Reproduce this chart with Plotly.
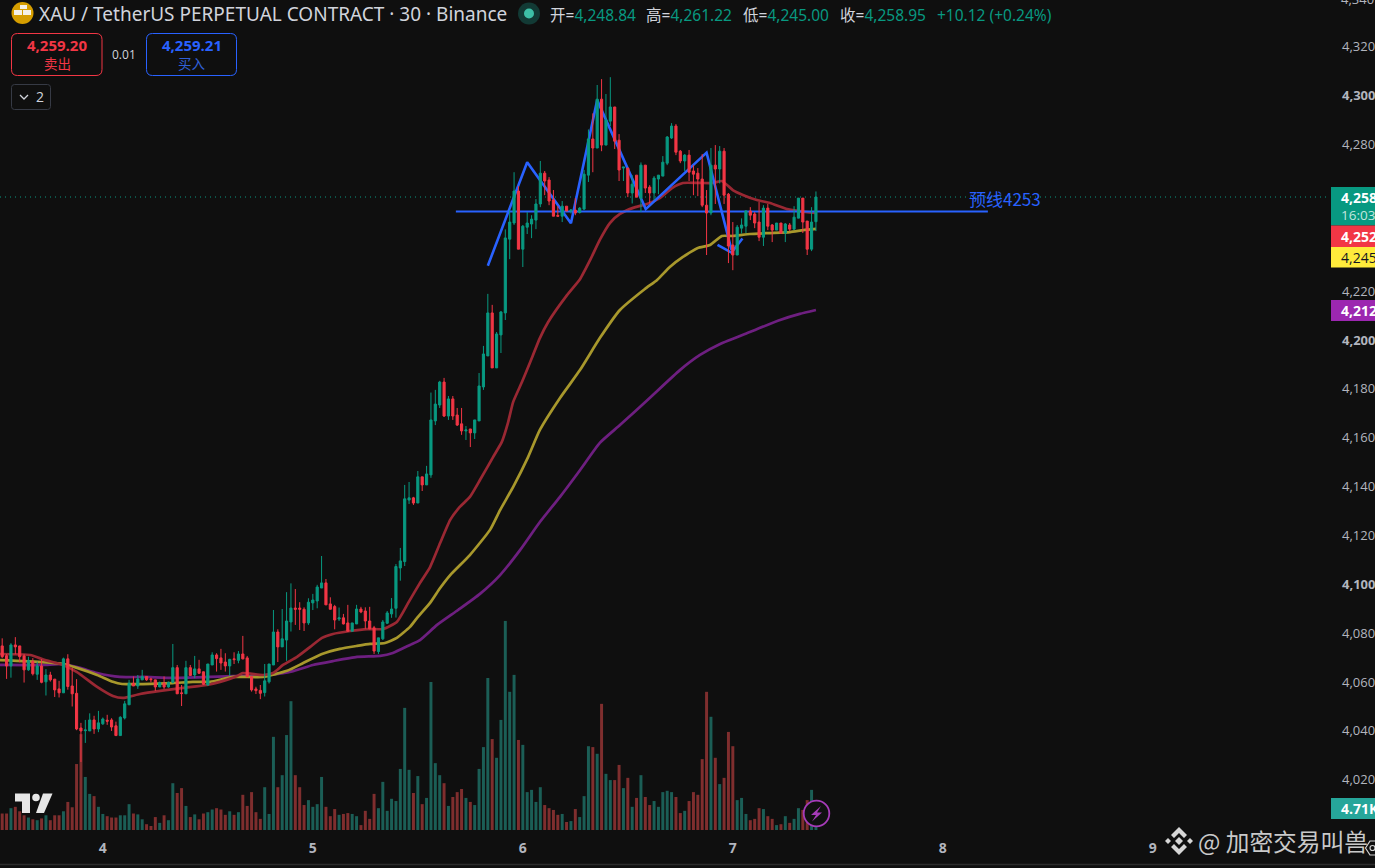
import plotly.graph_objects as go

# ---- data ----
bars = list(range(187))
open_ = [4075.2,4071.2,4067.0,4075.6,4075.2,4071.1,4065.4,4068.8,4063.6,4067.0,
4060.5,4063.3,4061.6,4057.6,4056.0,4069.9,4058.8,4055.8,4041.6,4040.5,
4040.4,4044.9,4041.2,4043.3,4044.8,4044.9,4042.5,4038.5,4045.7,4051.1,
4059.9,4058.8,4061.3,4062.7,4061.7,4061.3,4058.4,4059.9,4058.4,4060.3,
4066.3,4056.0,4055.6,4066.3,4063.3,4065.8,4064.6,4059.2,4067.4,4071.5,
4070.3,4068.6,4067.0,4069.9,4069.3,4071.9,4070.3,4062.6,4057.6,4057.0,
4056.1,4060.5,4067.4,4080.9,4074.8,4077.6,4085.0,4090.7,4090.7,4090.2,
4084.6,4092.8,4093.6,4098.9,4101.0,4092.4,4091.3,4086.2,4086.7,4084.6,
4081.2,4084.2,4090.3,4089.5,4085.4,4082.6,4072.9,4078.1,4084.5,4088.3,
4090.6,4107.1,4109.7,4134.9,4135.8,4133.7,4144.4,4141.1,4145.2,4167.3,
4173.8,4183.2,4169.3,4176.3,4169.7,4166.1,4163.2,4164.0,4162.4,4167.3,
4181.2,4193.9,4211.5,4189.0,4202.5,4211.5,4241.7,4248.3,4261.4,4237.6,
4246.6,4247.9,4249.5,4256.1,4268.7,4265.9,4257.7,4251.4,4251.1,4255.2,
4253.2,4253.6,4252.6,4254.0,4267.9,4282.7,4279.0,4299.0,4280.2,4290.0,
4295.8,4282.2,4270.8,4270.8,4260.6,4267.9,4258.5,4272.0,4263.0,4260.6,
4266.3,4267.5,4272.8,4283.1,4288.0,4277.7,4273.7,4276.1,4269.6,4268.7,
4266.3,4255.6,4252.4,4272.0,4270.4,4277.7,4260.1,4239.3,4235.2,4246.2,
4247.0,4253.2,4252.0,4248.7,4242.5,4254.4,4247.5,4245.4,4248.3,4244.2,
4247.5,4245.8,4250.3,4258.5,4249.1,4237.6,4248.84]
high = [4078.3,4071.9,4076.3,4078.8,4075.2,4071.8,4070.8,4070.2,4068.8,4069.8,
4065.7,4064.6,4061.6,4060.9,4070.4,4071.8,4066.1,4061.6,4043.7,4044.9,
4047.6,4046.6,4048.6,4045.9,4047.0,4045.6,4044.2,4046.4,4052.7,4061.3,
4062.7,4063.3,4065.4,4062.7,4062.2,4061.3,4060.6,4062.7,4060.6,4076.0,
4067.4,4059.2,4069.1,4067.4,4071.1,4069.5,4064.7,4067.8,4072.6,4072.2,
4074.0,4072.2,4069.9,4072.6,4073.1,4079.3,4071.1,4062.9,4058.5,4059.2,
4067.8,4067.8,4089.9,4082.0,4090.3,4097.2,4100.8,4098.5,4093.1,4091.0,
4094.7,4096.5,4100.2,4112.0,4102.6,4095.1,4092.0,4090.9,4088.3,4092.0,
4084.6,4092.0,4091.2,4091.0,4091.2,4083.4,4078.5,4085.8,4089.5,4094.8,
4108.7,4115.3,4141.1,4142.3,4136.2,4146.8,4144.4,4148.9,4178.9,4180.0,
4183.7,4184.9,4177.5,4177.5,4172.6,4172.6,4165.2,4164.0,4167.7,4186.9,
4198.0,4219.3,4214.8,4203.7,4212.3,4245.7,4253.6,4269.1,4263.4,4247.5,
4252.8,4251.5,4258.1,4273.7,4269.6,4267.1,4261.8,4255.2,4257.3,4255.2,
4254.0,4258.5,4254.8,4270.0,4286.6,4293.2,4304.8,4307.2,4301.1,4308.0,
4295.8,4284.7,4271.2,4270.8,4267.9,4267.9,4273.1,4272.0,4263.8,4267.5,
4267.9,4275.7,4283.9,4289.2,4288.8,4278.2,4276.5,4278.2,4272.0,4270.8,
4276.5,4261.8,4279.0,4280.2,4279.8,4279.0,4260.6,4248.7,4247.5,4250.2,
4253.6,4254.8,4252.8,4256.9,4255.6,4256.1,4247.9,4248.3,4248.3,4248.3,
4248.3,4255.2,4258.5,4258.5,4249.1,4254.8,4261.22]
low = [4070.2,4061.7,4062.2,4071.8,4068.5,4060.2,4065.0,4063.1,4061.3,4059.9,
4054.9,4060.6,4054.3,4054.1,4056.0,4057.3,4050.4,4040.7,4027.7,4035.5,
4040.4,4039.2,4039.9,4042.9,4042.9,4040.4,4038.5,4038.5,4045.1,4051.1,
4058.8,4057.6,4061.3,4060.9,4060.3,4056.8,4058.4,4057.6,4058.1,4059.9,
4055.6,4050.6,4055.6,4063.1,4062.0,4063.8,4059.2,4059.0,4067.4,4064.7,
4065.4,4064.7,4062.9,4067.8,4068.1,4069.7,4062.4,4056.5,4055.5,4053.4,
4054.5,4059.8,4067.4,4068.6,4074.8,4069.1,4081.1,4083.8,4081.7,4081.3,
4083.8,4089.9,4090.6,4098.9,4092.0,4090.2,4082.0,4085.4,4084.0,4081.1,
4081.2,4084.2,4088.6,4082.2,4082.0,4071.9,4071.9,4077.6,4084.2,4086.7,
4086.8,4101.9,4107.9,4133.3,4132.9,4133.7,4138.6,4141.1,4144.0,4165.6,
4172.6,4168.9,4167.7,4167.7,4165.2,4161.6,4159.5,4156.6,4159.9,4167.3,
4180.0,4193.9,4189.0,4189.0,4195.1,4208.6,4233.5,4247.5,4237.6,4230.3,
4243.8,4242.1,4245.8,4254.8,4259.7,4255.6,4251.1,4251.1,4248.7,4253.2,
4252.2,4251.5,4252.2,4253.6,4265.1,4269.1,4279.0,4277.7,4280.2,4288.0,
4278.6,4265.5,4265.5,4258.9,4256.3,4258.9,4252.8,4260.6,4256.3,4257.7,
4260.1,4267.5,4272.0,4282.7,4276.1,4272.8,4269.6,4265.5,4259.7,4259.3,
4254.8,4235.2,4251.5,4256.1,4264.5,4256.1,4231.9,4229.0,4235.2,4244.0,
4244.2,4249.5,4246.2,4240.9,4238.9,4245.4,4240.5,4245.4,4243.8,4240.5,
4245.0,4245.4,4250.3,4244.2,4235.2,4236.8,4245.0]
close = [4070.8,4067.0,4075.6,4074.8,4070.8,4065.4,4069.2,4063.8,4067.0,4060.3,
4063.3,4061.3,4057.2,4056.0,4069.9,4058.6,4055.6,4041.2,4040.4,4040.8,
4044.9,4041.2,4043.7,4045.3,4044.4,4042.0,4038.5,4046.0,4051.5,4059.9,
4058.8,4061.7,4062.7,4061.3,4061.4,4058.4,4060.2,4058.4,4060.3,4066.3,
4055.6,4055.7,4066.3,4063.1,4065.8,4064.0,4059.5,4067.8,4071.5,4070.0,
4068.2,4067.0,4069.7,4069.6,4071.9,4069.9,4062.6,4057.2,4056.9,4055.8,
4060.9,4067.8,4080.9,4074.8,4078.1,4085.4,4090.7,4090.2,4090.2,4084.6,
4093.1,4094.0,4099.3,4101.0,4092.0,4090.2,4085.8,4086.7,4084.2,4081.2,
4084.6,4090.3,4089.1,4085.4,4082.2,4073.1,4078.5,4085.0,4088.7,4090.3,
4107.7,4110.0,4135.4,4135.8,4133.7,4144.4,4141.1,4145.6,4167.7,4174.2,
4183.2,4169.3,4176.3,4169.3,4165.6,4163.2,4163.6,4162.4,4167.7,4181.6,
4194.7,4211.5,4189.0,4202.9,4211.9,4242.2,4248.7,4261.4,4237.6,4247.0,
4248.3,4249.9,4256.1,4268.7,4265.5,4257.3,4251.1,4251.1,4255.2,4253.2,
4253.6,4252.4,4254.4,4268.3,4282.7,4279.0,4299.0,4280.2,4290.4,4295.8,
4281.8,4270.0,4271.2,4260.6,4264.2,4258.9,4272.0,4262.6,4260.6,4266.7,
4267.9,4273.2,4283.5,4288.0,4277.3,4273.7,4276.1,4269.1,4268.3,4266.3,
4255.6,4252.4,4272.0,4270.4,4277.7,4259.7,4238.9,4235.2,4246.6,4247.5,
4253.2,4251.5,4248.3,4242.5,4254.4,4247.0,4245.4,4248.3,4244.2,4247.9,
4245.8,4250.7,4258.5,4248.7,4237.6,4248.7,4258.95]
volume_k = [3.7,3.7,4.9,5.2,4.2,3.3,2.8,2.4,2.2,2.6,
3.3,2.2,3.3,3.3,4.2,6.3,5.1,14.8,21.5,11.9,
8.1,7.6,5.2,3.6,3.1,2.8,2.8,3.3,3.3,5.8,
3.7,3.5,2.4,1.3,0.9,2.9,1.6,3.3,2.2,10.5,
8.3,9.4,5.4,2.9,3.5,2.4,3.7,4.0,4.6,4.9,
4.6,3.4,4.2,3.4,4.0,7.9,5.4,8.5,4.0,2.5,
9.6,3.6,20.9,9.6,12.3,21.3,28.9,12.3,9.6,5.6,
6.7,5.2,5.8,11.9,5.2,3.1,4.7,3.4,3.6,3.8,
3.6,3.1,1.1,4.3,2.5,8.1,4.9,10.8,4.3,7.0,
6.5,13.7,27.4,13.5,8.3,12.1,5.8,7.2,33.2,15.0,
12.3,10.5,5.4,7.4,8.5,9.2,7.2,6.3,5.6,13.7,
18.6,34.1,20.4,16.2,24.7,46.9,31.0,34.8,20.2,19.1,
8.5,9.0,6.3,9.6,5.6,4.9,4.5,3.4,3.6,1.8,
2.0,4.7,2.9,7.6,18.8,18.6,17.1,28.3,12.6,11.2,
11.2,14.6,9.4,11.7,5.2,7.2,12.3,7.4,5.6,6.5,
5.2,8.5,8.8,8.5,7.4,3.8,4.3,6.5,8.5,7.9,
15.9,31.0,25.4,16.2,10.3,11.7,22.0,18.8,6.7,7.2,
3.6,2.2,2.5,4.9,4.7,3.1,2.5,1.1,1.3,3.1,
1.6,2.5,4.9,4.5,6.7,9.0,4.71]

ma_red_x = [-0.5,6.4,9.8,13.9,17.1,21.7,25.3,27.6,31.5,36.1,41.3,46.8,49.8,53.7,55,59.6,61.9,64.2,67.4,70.4,73.1,75.6,79.5,83.4,87,90.2,92.8,95.5,97.8,100.1,102.4,104.6,106.9,109.2,112.2,114.2,115.6,116.8,118.8,120.6,122.9,124.8,129.1,132.1,134.4,136.6,138.9,141.2,144.2,147.4,150.4,153.1,155.6,159.5,162.5,164.5,167,169.3,172.5,175.5,179.4,182.3,186]
ma_red_y = [4071.9,4071.5,4069.4,4067.4,4064.5,4058.4,4054.7,4053.9,4055.5,4056.8,4058,4059.2,4060.5,4062.9,4064.1,4063.3,4064.1,4067.4,4070.7,4074.8,4078.5,4080.1,4081.3,4082.1,4082.1,4085,4092.8,4101,4107.5,4117.3,4126.8,4132.1,4136.2,4143.1,4152.5,4158.7,4166.5,4175.1,4183.2,4191,4201.2,4207.8,4218.8,4225.4,4233.2,4241.4,4248.3,4252,4254.5,4256.1,4258.6,4262.6,4264.7,4264.7,4264.7,4265.5,4261.8,4259.8,4257.7,4256.5,4254,4253.2,4252.4]
ma_yellow_x = [-0.5,9.3,13.9,17.1,21.7,25.3,27.4,32.2,39,43.6,47.5,52.8,59.6,65.1,68.8,73.1,77.2,81.1,84.1,87.5,90.2,93.2,94.8,97.8,100.1,102.4,106.9,111.5,113.8,116.8,120.2,122.9,127.5,132.1,136.6,141.2,146.9,149.7,152.6,155.6,159,161.8,164.5,167,170.9,175.5,180.1,183.1,186]
ma_yellow_y = [4069.4,4068.6,4067.8,4066.2,4063.3,4060.5,4059.6,4059.6,4060,4060.5,4060.5,4062.5,4062.5,4065,4068.2,4071.9,4074,4075.2,4076,4076.4,4078.5,4083,4086.6,4092.8,4098.9,4104.2,4112.4,4122.7,4130.8,4140.3,4152.5,4163.6,4176.7,4188.2,4201.2,4212.7,4221.3,4225,4230.3,4234.4,4238.1,4239.3,4243,4243,4243.8,4244.2,4244.6,4245.4,4245.9]
ma_purple_x = [-0.5,9.3,13.9,17.8,21.7,26.9,32.2,39,47.5,55,60.5,66.5,71,75.6,81.1,86.4,89.3,93.2,95.5,99.4,104.2,109.2,113.8,118.4,122.9,127.5,132.1,136.6,141.2,148,154.9,159.5,164.1,170.9,177.8,182.3,186]
ma_purple_y = [4067.4,4067.4,4067.8,4066.2,4064.1,4062.5,4062.5,4062.1,4062.5,4062.9,4063.3,4064.9,4067.4,4069,4070.7,4071.1,4072.3,4075.6,4077.6,4083.8,4089.9,4096.5,4104.2,4114.5,4125.9,4136.2,4147.2,4158.3,4165.6,4176.7,4188.1,4194.3,4198.8,4203.7,4208.6,4211.1,4212.7]

zig_a_x = [111,120,130,136,147.1,161,166.7]
zig_a_y = [4230.8,4273.2,4248.2,4298.6,4254,4277.1,4237.3]
zig_b_x = [163.5,166.7,169.2]
zig_b_y = [4239.4,4236.2,4242]
neck_x = [103.7,225.3]
neck_y = [4253,4253]
neck_label = "预线4253"

day_ticks = [23,71,119,167,215,263]
day_labels = ["4","5","6","7","8","9"]
price_ticks = [4020,4040,4060,4080,4100,4120,4140,4160,4180,4200,4220,4280,4300,4320]
price_labels = ["4,020","4,040","4,060","4,080","<b>4,100</b>","4,120","4,140","4,160","4,180",
                "<b>4,200</b>","4,220","4,280","<b>4,300</b>","4,320"]
last_price = 4258.95

# ---- style ----
BG = "#0f0f0f"
GREEN = "#089981"
RED = "#f23645"
BLUE = "#2962ff"
GRAY = "#b2b5be"
UI = "Open Sans, sans-serif"
CJK = "Noto Sans CJK SC, sans-serif"
PW, PH = 1330, 830

def px(x): return x / PW
def py(y): return 1 - y / PH

price_range = [3999.85, 4339.59]
x_range = [-0.503, 303.5]

fig = go.Figure()
vol_colors = ["#1b5e56" if c >= o else "#7f2e2e" for o, c in zip(open_, close)]
fig.add_bar(x=bars, y=volume_k, marker=dict(color=vol_colors, line_width=0), width=0.68,
            yaxis="y", hoverinfo="skip", showlegend=False)
for xs, ys, col in [(ma_purple_x, ma_purple_y, "#6e1f80"), (ma_yellow_x, ma_yellow_y, "#a8982c"),
                    (ma_red_x, ma_red_y, "#9a2833")]:
    fig.add_scatter(x=xs, y=ys, mode="lines", line=dict(color=col, width=2.7, shape="spline", smoothing=0.5),
                    yaxis="y2", hoverinfo="skip", showlegend=False)
for xs, ys, w in [(neck_x, neck_y, 2), (zig_a_x, zig_a_y, 2.6), (zig_b_x, zig_b_y, 2.6)]:
    fig.add_scatter(x=xs, y=ys, mode="lines", line=dict(color=BLUE, width=w), yaxis="y2",
                    hoverinfo="skip", showlegend=False)
fig.add_candlestick(x=bars, open=open_, high=high, low=low, close=close, yaxis="y3",
                    whiskerwidth=0, showlegend=False, hoverinfo="skip",
                    increasing=dict(line=dict(color=GREEN, width=1), fillcolor=GREEN),
                    decreasing=dict(line=dict(color=RED, width=1), fillcolor=RED))

shapes, ann = [], []

def box(x0, y0, x1, y1, fill, line=None, lw=0):
    shapes.append(dict(type="rect", xref="paper", yref="paper", x0=px(x0), x1=px(x1), y0=py(y0), y1=py(y1),
                       fillcolor=fill, line=dict(width=lw, color=line or fill)))

def round_box(x0, y0, x1, y1, r, line, fill="rgba(0,0,0,0)"):
    p = (f"M {px(x0+r)},{py(y0)} L {px(x1-r)},{py(y0)} Q {px(x1)},{py(y0)} {px(x1)},{py(y0+r)} "
         f"L {px(x1)},{py(y1-r)} Q {px(x1)},{py(y1)} {px(x1-r)},{py(y1)} L {px(x0+r)},{py(y1)} "
         f"Q {px(x0)},{py(y1)} {px(x0)},{py(y1-r)} L {px(x0)},{py(y0+r)} Q {px(x0)},{py(y0)} {px(x0+r)},{py(y0)} Z")
    shapes.append(dict(type="path", xref="paper", yref="paper", path=p, fillcolor=fill, line=dict(color=line, width=1)))

def poly(pts, fill, line=None, lw=0, closed=None):
    p = "M " + " L ".join(f"{px(a)},{py(b)}" for a, b in pts)
    if line is None or closed:
        p += " Z"
    shapes.append(dict(type="path", xref="paper", yref="paper", path=p,
                       fillcolor=fill if line is None else "rgba(0,0,0,0)",
                       line=dict(width=lw, color=line or fill)))

def circle(cx, cy, r, fill, line=None, lw=0):
    shapes.append(dict(type="circle", xref="paper", yref="paper", x0=px(cx-r), x1=px(cx+r), y0=py(cy-r), y1=py(cy+r),
                       fillcolor=fill, line=dict(width=lw, color=line or fill)))

def text(x, y, t, size=13, color=GRAY, anchor="left", family=UI):
    ann.append(dict(xref="paper", yref="paper", x=px(x), y=py(y), text=t, showarrow=False, xanchor=anchor,
                    yanchor="middle", font=dict(size=size, color=color, family=family), align=anchor, borderpad=0, borderwidth=0))

# last price dotted line
shapes.append(dict(type="line", xref="paper", yref="y2", x0=0, x1=1, y0=last_price, y1=last_price, layer="below",
                   line=dict(color=GREEN, width=1, dash="1px,4px")))

# price scale boxes
box(1331, 187, 1375, 225.5, GREEN)
box(1331, 225.5, 1375, 247, RED)
box(1331, 247, 1375, 267.5, "#ffeb3b")
box(1331, 300, 1375, 321, "#9c27b0")
box(1331, 798, 1375, 819, "#26a69a")
text(1341, 197, "<b>4,258.95</b>", 14, "#ffffff")
text(1341, 215, "16:03", 13.5, "#c2e6df")
text(1341, 236, "<b>4,252.40</b>", 14, "#ffffff")
text(1341, 257.5, "4,245.90", 14, "#131722")
text(1341, 310.5, "<b>4,212.70</b>", 14, "#ffffff")
text(1341, 808.5, "<b>4.71K</b>", 14, "#ffffff")
text(1341, -1, "4,340", 13, GRAY)

# legend header
circle(22.5, 13, 11, "#d69e00")
box(20, 5, 27, 9, "#f5f1e6")
box(14, 10, 22, 15, "#f5f1e6")
box(23, 10, 31, 15, "#f5f1e6")
text(39, 14, "XAU / TetherUS PERPETUAL CONTRACT · 30 · Binance", 19, "#d1d4dc", family="Noto Sans, sans-serif")
circle(529, 13.5, 11, "#123a35")
circle(529, 13.5, 5, "#3dbfa6")
OHLC_FONT = "Noto Sans, Noto Sans CJK SC, sans-serif"
for x0, lab, val in [(550, "开", "4,248.84"), (646, "高", "4,261.22"), (743, "低", "4,245.00"), (840, "收", "4,258.95")]:
    text(x0, 14.5, f"{lab}=<span style='color:{GREEN}'>{val}</span>", 15.5, "#d1d4dc", family=OHLC_FONT)
text(937, 14.5, "+10.12 (+0.24%)", 15.5, GREEN, family=OHLC_FONT)

# buy / sell widgets
round_box(11.5, 33.5, 102, 75.5, 6, RED)
round_box(146.5, 33.5, 236.5, 75.5, 6, BLUE)
text(57, 45.5, "<b>4,259.20</b>", 15, RED, "center")
text(57, 63.5, "卖出", 13.5, RED, "center", CJK)
text(124, 54, "0.01", 12, "#d1d4dc", "center")
text(191.5, 45.5, "<b>4,259.21</b>", 15, BLUE, "center")
text(191.5, 63.5, "买入", 13.5, "#2f5fd8", "center", CJK)
round_box(11.5, 84.5, 50.5, 109.5, 3, "#363a45")
poly([(20, 95), (24, 99), (28, 95)], None, "#d1d4dc", 1.3)
text(40, 96.5, "2", 14, "#d1d4dc", "center")

# neckline label
ann.append(dict(x=229.2, y=4258.4, xref="x", yref="y2", text=neck_label, showarrow=False,
                font=dict(size=17, color=BLUE, family=CJK)))

# TradingView logo
WM = "#e6e6e6"
poly([(15, 793.5), (30, 793.5), (30, 813), (22, 813), (22, 801.5), (15, 801.5)], WM)
circle(36, 797.5, 3.8, WM)
poly([(43, 793.5), (52.5, 793.5), (44, 813), (36, 813)], WM)

# lightning badge
circle(816.5, 813.5, 12.8, "#101010", "#a63bb8", 1.8)
poly([(821, 806), (811, 815), (816, 815), (812, 821.5), (822, 812.5), (817, 812.5)], "#a63bb8")

# footer
shapes.append(dict(type="line", xref="paper", yref="paper", x0=0, x1=px(1375), y0=py(864.5), y1=py(864.5),
                   line=dict(color="#2c2c2c", width=1.5)))
for cx, cy, r in [(1179, 841, 4), (1168, 841, 3), (1190, 841, 3)]:
    poly([(cx-r, cy), (cx, cy-r), (cx+r, cy), (cx, cy+r)], "#d6d6d6")
poly([(1179, 827), (1187, 835), (1184, 838), (1179, 833), (1174, 838), (1171, 835)], "#d6d6d6")
poly([(1179, 855), (1187, 847), (1184, 844), (1179, 849), (1174, 844), (1171, 847)], "#d6d6d6")
text(1198, 841, "@ 加密交易叫兽", 23.7, "#c9c9c9", family=CJK)
poly([(1365.5, 848), (1370, 841), (1379, 841), (1383, 848), (1379, 855), (1370, 855)], "rgba(0,0,0,0)", "#d0d0d0", 1.2, True)
circle(1372.5, 848, 2.5, "rgba(0,0,0,0)", "#d0d0d0", 1.2)

fig.update_layout(
    width=1375, height=868, autosize=False,
    margin=dict(l=0, r=45, t=0, b=38, pad=0),
    paper_bgcolor=BG, plot_bgcolor=BG, showlegend=False, barmode="overlay",
    font=dict(family=UI, color=GRAY, size=13),
    shapes=shapes, annotations=ann, hovermode=False, dragmode=False,
    xaxis=dict(range=x_range, showgrid=False, zeroline=False, showline=False, rangeslider=dict(visible=False),
               tickmode="array", tickvals=day_ticks, ticktext=[f"<b>{d}</b>" for d in day_labels],
               ticks="outside", ticklen=5, tickcolor=BG, tickfont=dict(size=14, color=GRAY, family=UI), fixedrange=True),
    yaxis=dict(range=[0, 186.2], domain=[0, 1], visible=False, fixedrange=True),
    yaxis2=dict(range=price_range, domain=[0, 1], overlaying="y", side="right", showgrid=False, zeroline=False,
                showline=False, tickmode="array", tickvals=price_ticks, ticktext=price_labels, ticks="",
                ticklabelstandoff=11, ticklabelshift=-1, tickfont=dict(size=13, color=GRAY, family=UI), fixedrange=True),
    yaxis3=dict(range=price_range, domain=[0, 1], overlaying="y", side="right", visible=False, fixedrange=True),
)

fig.write_html("out.html", config=dict(displayModeBar=False, responsive=False),
               post_script="document.body.style.margin='0';document.body.style.overflow='hidden';")
